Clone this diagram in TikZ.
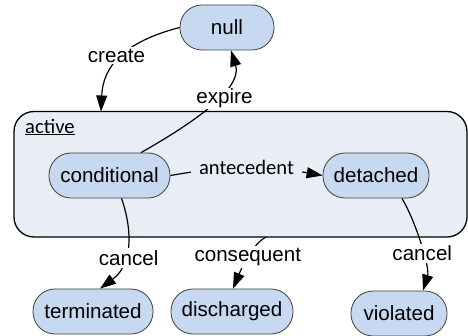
\documentclass[tikz,border=0pt]{standalone}
\usepackage{fontspec}
\setmainfont{Liberation Sans}
\newfontfamily\carlito{Carlito}
\usetikzlibrary{arrows.meta}
\definecolor{stateblue}{RGB}{198,217,240}
\definecolor{stateline}{RGB}{64,64,64}
\definecolor{activebg}{RGB}{233,238,246}
\newcommand{\lblsize}{\fontsize{20.6}{24}\selectfont}

\begin{document}
\begin{tikzpicture}[x=1pt,y=-1pt,
    every node/.style={font=\lblsize},
    state/.style={draw=stateline,fill=stateblue,line width=0.8pt,rounded corners=22pt,minimum height=45pt,inner sep=0pt},
    trans/.style={-{Triangle[length=16pt,width=11pt]},line width=1.2pt},
    lbl/.style={fill=white,inner sep=2pt}]
          \useasboundingbox (0,0) rectangle (468,336);
          % composite state
          \node [draw,line width=1.3pt,fill=activebg,rounded corners=20pt,minimum width=453pt,minimum height=125.5pt,inner sep=0pt] (active) at (240.5,174.25) {};
          \node [anchor=west,inner sep=0pt,font=\carlito\lblsize] (activename) at (25,127) {\underline{active}};
          % states
          \node [state,minimum width=94pt] (null) at (227,27.5) {null};
          \node [state,minimum width=121pt] (conditional) at (109.5,175.5) {conditional};
          \node [state,minimum width=106pt] (detached) at (376,175.5) {detached};
          \node [state,minimum width=120pt] (terminated) at (93,311.5) {terminated};
          \node [state,minimum width=122pt] (discharged) at (232,311.5) {discharged};
          \node [state,minimum width=96pt] (violated) at (399,313.5) {violated};
          \coordinate (createin) at (101,111.5);
          \coordinate (consout) at (266,237);
          % transitions
          \draw [trans] (null.west) .. controls (124,42) and (103,66) .. node [lbl,pos=0.47,xshift=-6pt] {create} (createin);
          \draw [trans] (conditional.36) .. controls (225,105) and (240,80) .. node [lbl,inner ysep=1pt,pos=0.46,xshift=7pt] {expire} ([xshift=4pt]null.south);
          \draw [trans] (conditional.east) to [out=10,in=170] node [fill=activebg,inner xsep=8pt,inner ysep=1pt,font=\carlito\lblsize] {antecedent} (detached.west);
          \draw [trans] ([xshift=12pt]conditional.south) .. controls (130,222) and (136,262) .. node [lbl,pos=0.66,xshift=5pt] {cancel} ([xshift=7pt]terminated.north);
          \draw [trans] (consout) .. controls (250,246) and (240,272) .. node [lbl,pos=0.45] {consequent} ([xshift=1pt]discharged.north);
          \draw [trans] ([xshift=26pt]detached.south) .. controls (416,222) and (430,268) .. node [lbl,pos=0.58] {cancel} ([xshift=24pt]violated.north);
        \end{tikzpicture}
\end{document}
